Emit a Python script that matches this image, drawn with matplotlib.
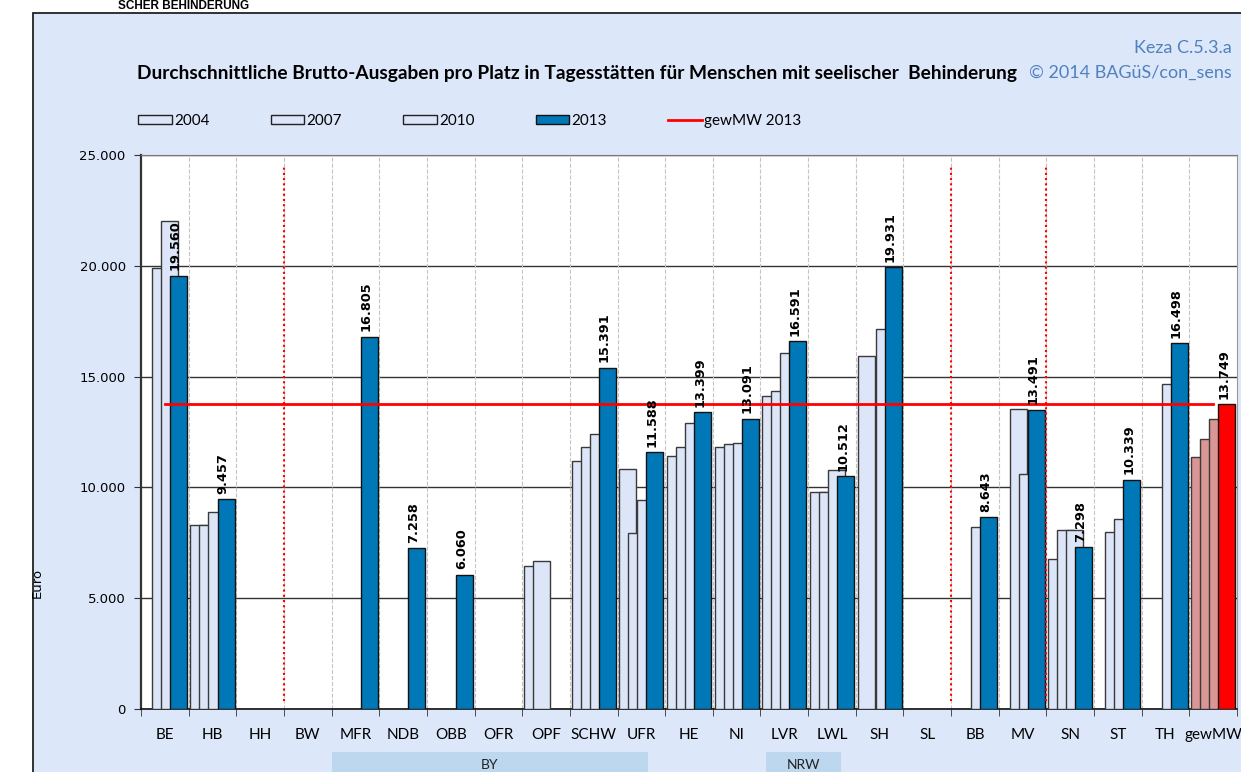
import matplotlib.pyplot as plt
import matplotlib.transforms as mtransforms
from matplotlib.patches import Rectangle, Patch
from matplotlib.lines import Line2D
import numpy as np

nan = np.nan

# categories (Länder / Bezirke)
regions = ['BE', 'HB', 'HH', 'BW', 'MFR', 'NDB', 'OBB', 'OFR', 'OPF', 'SCHW', 'UFR',
           'HE', 'NI', 'LVR', 'LWL', 'SH', 'SL', 'BB', 'MV', 'SN', 'ST', 'TH', 'gewMW']

# Euro per place
v2004 = [nan, 8300, nan, nan, nan, nan, nan, nan, 6450, 11200, 10840,
         11430, 11830, 14110, 9780, 15930, nan, nan, nan, 6750, nan, nan, 11370]
v2007 = [19900, 8300, nan, nan, nan, nan, nan, nan, 6680, 11830, 7930,
         11830, 11940, 14360, 9780, nan, nan, nan, 13520, 8090, 7970, nan, 12180]
v2010 = [22000, 8900, nan, nan, nan, nan, nan, nan, nan, 12420, 9450,
         12890, 12020, 16050, 10770, 17150, nan, 8210, 10620, 8090, 8570, 14680, 13070]
v2013 = [19560, 9457, nan, nan, 16805, 7258, 6060, nan, nan, 15391, 11588,
         13399, 13091, 16591, 10512, 19931, nan, 8643, 13491, 7298, 10339, 16498, 13749]
mean_2013 = 13749

years = ['2004', '2007', '2010', '2013']
series = [v2004, v2007, v2010, v2013]

light = '#DCE6F8'
blue = '#0077B6'
pink = '#D99694'
red = '#FF0000'

plt.rcParams['font.family'] = ['Lato', 'DejaVu Sans']

fig = plt.figure(figsize=(12.41, 7.72), dpi=100)
fig.patch.set_facecolor('white')

# chart area background with border
bg = Rectangle((33 / 1241, -0.05), 1.0, 1.05 - 13 / 772, transform=fig.transFigure,
               facecolor='#DDE7FA', edgecolor='#222222', lw=1.3, zorder=-10)
fig.patches.append(bg)

ax = fig.add_axes([141 / 1241, 63 / 772, 1096 / 1241, 554 / 772])
ax.set_facecolor('white')

x = np.arange(len(regions))
step = 0.19
width = 0.357
for i, vals in enumerate(series):
    cols = []
    for j in range(len(regions)):
        if regions[j] == 'gewMW':
            cols.append(red if i == 3 else pink)
        else:
            cols.append(blue if i == 3 else light)
    edge = '#111111' if i == 3 else '#3a3a3a'
    ax.bar(x + (i - 1.5) * step, vals, width, color=cols, edgecolor=edge,
           linewidth=1.0, zorder=3 + i)

# value labels for 2013
for j, v in enumerate(v2013):
    if np.isnan(v):
        continue
    ax.text(x[j] + 1.5 * step - 0.06, v + 250, f'{int(v):,}'.replace(',', '.'),
            rotation=90, ha='center', va='bottom', fontsize=9.3, fontweight='bold',
            family='DejaVu Sans', zorder=10)

# weighted mean line
ax.plot([x[0], x[-1]], [mean_2013, mean_2013], color=red, lw=2, zorder=9)

# red dotted separators
for b in [2.5, 16.5, 18.5]:
    ax.axvline(b, ymin=0.015, ymax=0.98, color=red, ls=(0, (1, 1.5)), lw=1.5, zorder=8)

# grid
ax.set_ylim(0, 25000)
ax.set_xlim(-0.5, len(regions) - 0.5)
ax.set_yticks(np.arange(0, 25001, 5000))
ax.set_yticklabels([f'{t:,}'.replace(',', '.') for t in range(0, 25001, 5000)],
                   family='DejaVu Sans', fontsize=9.5)
ax.yaxis.grid(True, color='#333333', lw=1.0, zorder=1)
ax.set_xticks(x)
ax.set_xticklabels(regions, fontsize=11)
ax.set_xticks(np.arange(-0.5, len(regions)), minor=True)
ax.tick_params(axis='x', which='major', length=0, pad=14)
ax.tick_params(axis='x', which='minor', length=5, direction='out', color='#333333')
ax.tick_params(axis='y', length=5, direction='out', color='#333333', pad=6)
for b in np.arange(0.5, len(regions) - 1):
    ax.axvline(b, color='#C4C4C4', ls='--', lw=0.8, zorder=1)
ax.set_axisbelow(True)
ax.spines['left'].set_color('#333333')
ax.spines['left'].set_linewidth(1.6)
ax.spines['bottom'].set_color('#111111')
ax.spines['bottom'].set_linewidth(1.2)
ax.spines['top'].set_color('#777777')
ax.spines['right'].set_color('#999999')

# group boxes
trans = mtransforms.blended_transform_factory(ax.transData, ax.transAxes)
for x0, x1, name in [(3.5, 10.14, 'BY'), (12.61, 14.2, 'NRW')]:
    ax.add_patch(Rectangle((x0, -0.077), x1 - x0, -0.04, transform=trans,
                           facecolor='#BDD7EE', edgecolor='none', clip_on=False))
    ax.text((x0 + x1) / 2, -0.112, name, transform=trans, ha='center', va='bottom',
            fontsize=10, color='#222222', clip_on=False)

# legend
handles = [Patch(facecolor=light, edgecolor='#222222', label=y) for y in years[:3]]
handles.append(Patch(facecolor=blue, edgecolor='#111111', label='2013'))
handles.append(Line2D([0], [0], color=red, lw=2, label='gewMW 2013'))
fig.legend(handles=handles, loc='center left', bbox_to_anchor=(132 / 1241, 1 - 121 / 772),
           ncol=5, frameon=False, fontsize=11, handlelength=2.2, handleheight=0.45,
           handletextpad=0.15, columnspacing=4.0, borderaxespad=0)

# texts
fig.text(137 / 1241, 1 - 73 / 772,
         'Durchschnittliche Brutto-Ausgaben pro Platz in Tagesstätten für Menschen mit seelischer  Behinderung',
         ha='left', va='center', fontsize=13.8, fontweight='bold')
fig.text(1232 / 1241, 1 - 48 / 772, 'Keza C.5.3.a', ha='right', va='center',
         fontsize=13, color='#4F81BD')
fig.text(1232 / 1241, 1 - 73 / 772, '© 2014 BAGüS/con_sens', ha='right', va='center',
         fontsize=13, color='#4F81BD')
fig.text(118 / 1241, 1.0, 'SCHER BEHINDERUNG', ha='left', va='top',
         fontsize=8.5, fontweight='bold', family='Liberation Sans')
fig.text(37 / 1241, 1 - 583 / 772, 'Euro', rotation=90, ha='center', va='center',
         fontsize=9.5, family='DejaVu Sans')

fig.savefig('out.png', dpi=100)
